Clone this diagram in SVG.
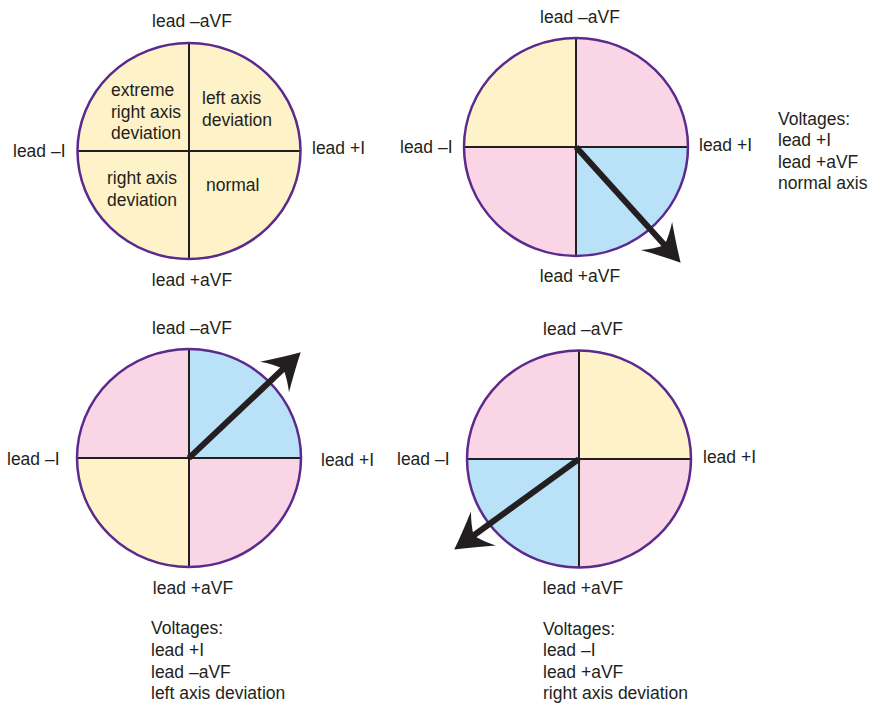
<svg xmlns="http://www.w3.org/2000/svg" width="870" height="704" viewBox="0 0 870 704">
<style>
text{font-family:"Liberation Sans",Arial,Helvetica,sans-serif;font-size:17.5px;fill:#231f20}
.mid{text-anchor:middle}
.end{text-anchor:end}
.y{fill:#fef2c8}
.p{fill:#f9d5e5}
.b{fill:#b9e1f7}
.rim{fill:none;stroke:#5b2a8c;stroke-width:2.5}
.ax{stroke:#231f20;stroke-width:2}
.shaft{stroke:#231f20;stroke-width:6;fill:none}
.head{fill:#231f20}
</style>
<defs>
<path id="ah" d="M1,0 Q-14,-8 -35,-21 Q-27,-10 -23,0 Q-27,10 -35,21 Q-14,8 1,0 Z"/>
</defs>
<rect width="870" height="704" fill="#ffffff"/>

<g id="diagram-reference">
<path class="y" d="M189,151 L189,43 A111.5,108 0 0 0 77.5,151 Z"/>
<path class="y" d="M189,151 L189,43 A111.5,108 0 0 1 300.5,151 Z"/>
<path class="y" d="M189,151 L300.5,151 A111.5,108 0 0 1 189,259 Z"/>
<path class="y" d="M189,151 L189,259 A111.5,108 0 0 1 77.5,151 Z"/>
<line class="ax" x1="77.5" y1="151" x2="300.5" y2="151"/>
<line class="ax" x1="189" y1="43" x2="189" y2="259"/>
<ellipse class="rim" cx="189" cy="151" rx="111.5" ry="108"/>
<text class="mid" x="192" y="27">lead –aVF</text>
<text x="13" y="157">lead –I</text>
<text x="312" y="154">lead +I</text>
<text class="mid" x="192" y="286">lead +aVF</text>
<text x="111" y="96">extreme</text>
<text x="111" y="118">right axis</text>
<text x="111" y="139">deviation</text>
<text x="202" y="104">left axis</text>
<text x="202" y="126">deviation</text>
<text class="end" x="177" y="184">right axis</text>
<text class="end" x="177" y="206">deviation</text>
<text x="206" y="191">normal</text>
</g>

<g id="diagram-normal">
<path class="y" d="M576,147 L576,38 A112,109 0 0 0 464,147 Z"/>
<path class="p" d="M576,147 L576,38 A112,109 0 0 1 688,147 Z"/>
<path class="b" d="M576,147 L688,147 A112,109 0 0 1 576,256 Z"/>
<path class="p" d="M576,147 L576,256 A112,109 0 0 1 464,147 Z"/>
<line class="ax" x1="464" y1="147" x2="688" y2="147"/>
<line class="ax" x1="576" y1="38" x2="576" y2="256"/>
<ellipse class="rim" cx="576" cy="147" rx="112" ry="109"/>
<text class="mid" x="580" y="23">lead –aVF</text>
<text x="400" y="153">lead –I</text>
<text x="699" y="151">lead +I</text>
<text class="mid" x="580" y="282">lead +aVF</text>
<text x="778" y="125">Voltages:</text>
<text x="778" y="146">lead +I</text>
<text x="778" y="168">lead +aVF</text>
<text x="778" y="189">normal axis</text>
</g>

<g id="diagram-left">
<path class="p" d="M189,458 L189,349 A112,109 0 0 0 77,458 Z"/>
<path class="b" d="M189,458 L189,349 A112,109 0 0 1 301,458 Z"/>
<path class="p" d="M189,458 L301,458 A112,109 0 0 1 189,567 Z"/>
<path class="y" d="M189,458 L189,567 A112,109 0 0 1 77,458 Z"/>
<line class="ax" x1="77" y1="458" x2="301" y2="458"/>
<line class="ax" x1="189" y1="349" x2="189" y2="567"/>
<ellipse class="rim" cx="189" cy="458" rx="112" ry="109"/>
<text class="mid" x="192" y="334">lead –aVF</text>
<text x="7" y="465">lead –I</text>
<text x="321" y="466">lead +I</text>
<text class="mid" x="193" y="594">lead +aVF</text>
<text x="151" y="634">Voltages:</text>
<text x="151" y="656">lead +I</text>
<text x="151" y="678">lead –aVF</text>
<text x="151" y="699">left axis deviation</text>
</g>

<g id="diagram-right">
<path class="p" d="M579,459 L579,350 A112,108.5 0 0 0 467,459 Z"/>
<path class="y" d="M579,459 L579,350 A112,108.5 0 0 1 691,459 Z"/>
<path class="p" d="M579,459 L691,459 A112,108.5 0 0 1 579,567 Z"/>
<path class="b" d="M579,459 L579,567 A112,108.5 0 0 1 467,459 Z"/>
<line class="ax" x1="467" y1="459" x2="691" y2="459"/>
<line class="ax" x1="579" y1="350" x2="579" y2="567"/>
<ellipse class="rim" cx="579" cy="459" rx="112" ry="108.5"/>
<text class="mid" x="583" y="335">lead –aVF</text>
<text x="397" y="465">lead –I</text>
<text x="703" y="463">lead +I</text>
<text class="mid" x="583" y="594">lead +aVF</text>
<text x="543" y="635">Voltages:</text>
<text x="543" y="656">lead –I</text>
<text x="543" y="678">lead +aVF</text>
<text x="543" y="699">right axis deviation</text>
</g>

<g id="connectors">
<g transform="translate(680,262) rotate(47.9)">
<line class="shaft" x1="-155" y1="0" x2="-20" y2="0"/>
<use href="#ah" class="head"/>
</g>
<g transform="translate(300,353) rotate(-43.4)">
<line class="shaft" x1="-153" y1="0" x2="-20" y2="0"/>
<use href="#ah" class="head"/>
</g>
<g transform="translate(455,549) rotate(144)">
<line class="shaft" x1="-153" y1="0" x2="-20" y2="0"/>
<use href="#ah" class="head"/>
</g>
</g>
</svg>
